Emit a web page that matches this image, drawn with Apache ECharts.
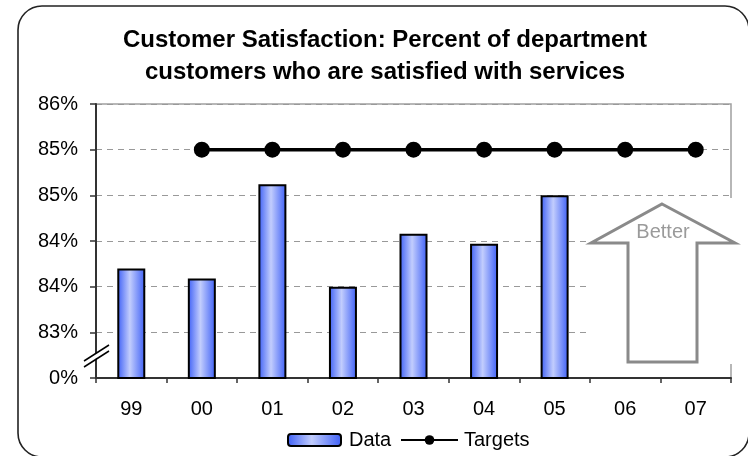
<!DOCTYPE html>
<html>
<head>
<meta charset="utf-8">
<script src="https://cdn.jsdelivr.net/npm/echarts@6/dist/echarts.min.js"></script>
<style>
  html, body { margin: 0; padding: 0; background: #fff; }
  #chart { width: 748px; height: 456px; }
</style>
</head>
<body>
<div id="chart"></div>
<script>
// Fiscal years shown on the category axis
const years = ['99', '00', '01', '02', '03', '04', '05', '06', '07'];
// Measured satisfaction (percent)
const dataValues = [83.7, 83.59, 84.62, 83.5, 84.08, 83.97, 84.5, null, null];
// Target satisfaction (percent); no target for 99
const targetValues = [null, 85, 85, 85, 85, 85, 85, 85, 85];
// Value axis: broken at the bottom, labels rounded to whole percents
const yMin = 82.5, yMax = 85.5, yStep = 0.5;
const yTickLabels = ['0%', '83%', '84%', '84%', '85%', '85%', '86%'];

const FONT = '"Liberation Sans", Arial, sans-serif';
const chart = echarts.init(document.getElementById('chart'), null, { renderer: 'canvas' });

const barFill = new echarts.graphic.LinearGradient(0, 0, 1, 0, [
  { offset: 0, color: '#3c5ef6' },
  { offset: 0.45, color: '#c2cdfd' },
  { offset: 1, color: '#3c5ef6' }
]);

chart.setOption({
  animation: false,
  backgroundColor: '#fff',
  title: {
    text: 'Customer Satisfaction: Percent of department\ncustomers who are satisfied with services',
    left: 380,
    top: 19,
    textAlign: 'center',
    textStyle: { fontFamily: FONT, fontSize: 24, fontWeight: 'bold', color: '#000', lineHeight: 32 }
  },
  grid: {
    left: 96, right: 17, top: 104, bottom: 78,
    show: true, borderColor: '#a0a0a0', borderWidth: 1.5, backgroundColor: 'transparent'
  },
  legend: [
    {
      data: ['Data'], left: 282, top: 425, itemWidth: 53, itemHeight: 12,
      textStyle: { fontFamily: FONT, fontSize: 20, color: '#000', padding: [0, 0, 0, 3] }
    },
    {
      data: ['Targets'], left: 395, top: 425, itemWidth: 57, itemHeight: 12,
      textStyle: { fontFamily: FONT, fontSize: 20, color: '#000', padding: [0, 0, 0, 1] }
    }
  ],
  xAxis: {
    type: 'category',
    data: years,
    boundaryGap: true,
    axisLine: { lineStyle: { color: '#333', width: 2 } },
    axisTick: { show: true, length: 5, lineStyle: { color: '#333', width: 1.5 } },
    axisLabel: { fontFamily: FONT, fontSize: 20, color: '#000', margin: 21 },
    splitLine: { show: false }
  },
  yAxis: {
    type: 'value',
    min: yMin, max: yMax, interval: yStep,
    axisLine: { show: true, lineStyle: { color: '#333', width: 2 } },
    axisTick: { show: true, length: 6, lineStyle: { color: '#333', width: 1.5 } },
    axisLabel: {
      fontFamily: FONT, fontSize: 20, color: '#000', margin: 18,
      formatter: v => yTickLabels[Math.round((v - yMin) / yStep)]
    },
    splitLine: { show: true, lineStyle: { color: '#999', type: [6, 5], width: 1 } }
  },
  series: [
    {
      name: 'Data', type: 'bar', data: dataValues, barWidth: 28,
      itemStyle: { color: barFill, borderColor: '#000', borderWidth: 2 },
      z: 2
    },
    {
      name: 'Targets', type: 'line', data: targetValues,
      symbol: 'circle', symbolSize: 16, showSymbol: true,
      itemStyle: { color: '#000' },
      lineStyle: { color: '#000', width: 3.5 },
      z: 3
    }
  ],
  graphic: [
    // rounded outer frame
    {
      type: 'rect', shape: { x: 18, y: 6, width: 731, height: 451, r: 24 },
      style: { fill: 'none', stroke: '#222', lineWidth: 1.6 }, z: 10
    },
    // broken-axis marker
    {
      type: 'polygon', shape: { points: [[84, 362], [108, 345], [108, 350], [84, 367]] },
      style: { fill: '#fff', stroke: 'none' }, z: 10
    },
    { type: 'line', shape: { x1: 84, y1: 361, x2: 109, y2: 345 }, style: { stroke: '#000', lineWidth: 1.5 }, z: 11 },
    { type: 'line', shape: { x1: 84, y1: 367, x2: 109, y2: 351 }, style: { stroke: '#000', lineWidth: 1.5 }, z: 11 },
    // "Better" arrow
    {
      type: 'rect', shape: { x: 589, y: 198, width: 152, height: 166 },
      style: { fill: '#fff', stroke: 'none' }, z: 10
    },
    {
      type: 'polygon',
      shape: { points: [[662, 204], [735, 243], [697, 243], [697, 362], [628, 362], [628, 243], [591, 243]] },
      style: { fill: '#fff', stroke: '#8a8a8a', lineWidth: 3, lineJoin: 'miter' }, z: 11
    },
    {
      type: 'text', x: 663, y: 232,
      style: { text: 'Better', fill: '#9a9a9a', font: '20px ' + FONT, align: 'center', verticalAlign: 'middle' },
      z: 12
    }
  ]
});
</script>
</body>
</html>
